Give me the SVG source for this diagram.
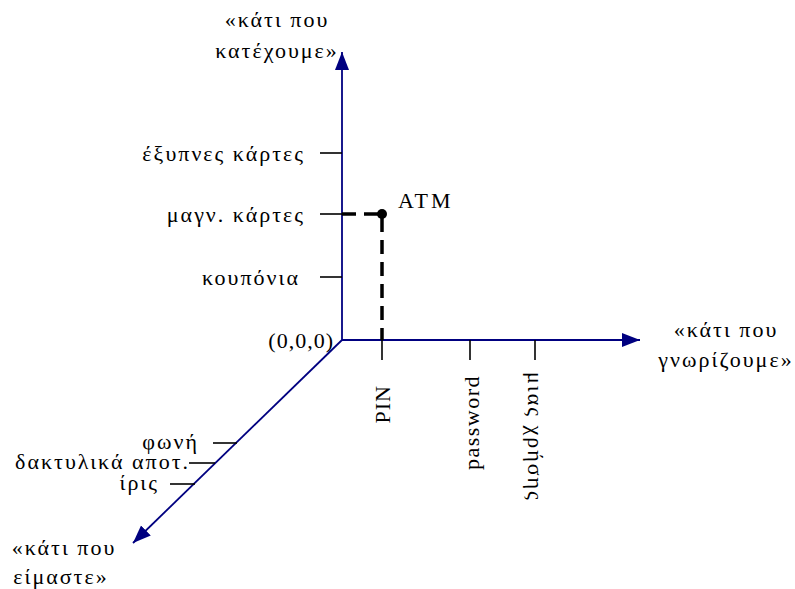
<svg xmlns="http://www.w3.org/2000/svg" width="795" height="589" viewBox="0 0 795 589">
<style>
text{font-family:"Liberation Serif","Times New Roman",serif;font-size:22px;fill:#000;letter-spacing:1px}
.g{letter-spacing:2px}
.axis{stroke:#000080;stroke-width:1.8;fill:none}
.tick{stroke:#000;stroke-width:1.6}
.dash{stroke:#000;stroke-width:3.5;stroke-dasharray:14,8;fill:none}
.r{text-anchor:end}
.m{text-anchor:middle}
</style>
<defs>
<marker id="ah" markerUnits="userSpaceOnUse" markerWidth="20" markerHeight="16" refX="18" refY="7" orient="auto">
<path d="M0,0 L18,7 L0,14 z" fill="#000080"/>
</marker>
</defs>
<g id="connectors">
<line class="axis" x1="342" y1="340" x2="342" y2="52" marker-end="url(#ah)"/>
<line class="axis" x1="342" y1="340" x2="640" y2="340" marker-end="url(#ah)"/>
<line class="axis" x1="342" y1="340" x2="133" y2="543" marker-end="url(#ah)"/>
<path class="dash" d="M342,214 H382 V340"/>
</g>
<g id="y-axis-label"><text class="m g" x="277" y="27">«κάτι που</text><text class="m g" x="277" y="58">κατέχουμε»</text></g>
<g id="x-axis-label"><text class="m g" x="726" y="337">«κάτι που</text><text class="m g" x="726" y="367">γνωρίζουμε»</text></g>
<g id="z-axis-label"><text class="m g" x="64" y="555">«κάτι που</text><text class="m g" x="61" y="584">είμαστε»</text></g>
<g id="origin"><text class="r" x="334" y="348">(0,0,0)</text></g>
<g id="tick-smart"><line class="tick" x1="320" y1="153" x2="342" y2="153"/><text class="r g" x="305" y="161">έξυπνες κάρτες</text></g>
<g id="tick-magn"><line class="tick" x1="320" y1="214" x2="342" y2="214"/><text class="r g" x="305" y="222">μαγν. κάρτες</text></g>
<g id="tick-coupon"><line class="tick" x1="320" y1="277" x2="342" y2="277"/><text class="r g" x="300" y="285">κουπόνια</text></g>
<g id="tick-pin"><line class="tick" x1="382" y1="340" x2="382" y2="360"/><text class="r" transform="translate(390,385) rotate(-90)">PIN</text></g>
<g id="tick-password"><line class="tick" x1="470" y1="340" x2="470" y2="360"/><text class="r" transform="translate(479,375) rotate(-90)" style="letter-spacing:1.5px">password</text></g>
<g id="tick-otp"><line class="tick" x1="535" y1="340" x2="535" y2="360"/><text class="g" transform="translate(528,372) rotate(90)">μιας χρήσης</text></g>
<g id="tick-voice"><line class="tick" x1="213" y1="443" x2="237" y2="443"/><text class="r g" x="199" y="449">φωνή</text></g>
<g id="tick-finger"><line class="tick" x1="189" y1="463" x2="215" y2="463"/><text class="r g" x="190" y="469">δακτυλικά αποτ.</text></g>
<g id="tick-iris"><line class="tick" x1="170" y1="484" x2="195" y2="484"/><text class="r g" x="159" y="490">ίρις</text></g>
<g id="atm"><circle cx="382" cy="214" r="5" fill="#000"/><text x="398" y="208" style="letter-spacing:3px">ATM</text></g>
</svg>
